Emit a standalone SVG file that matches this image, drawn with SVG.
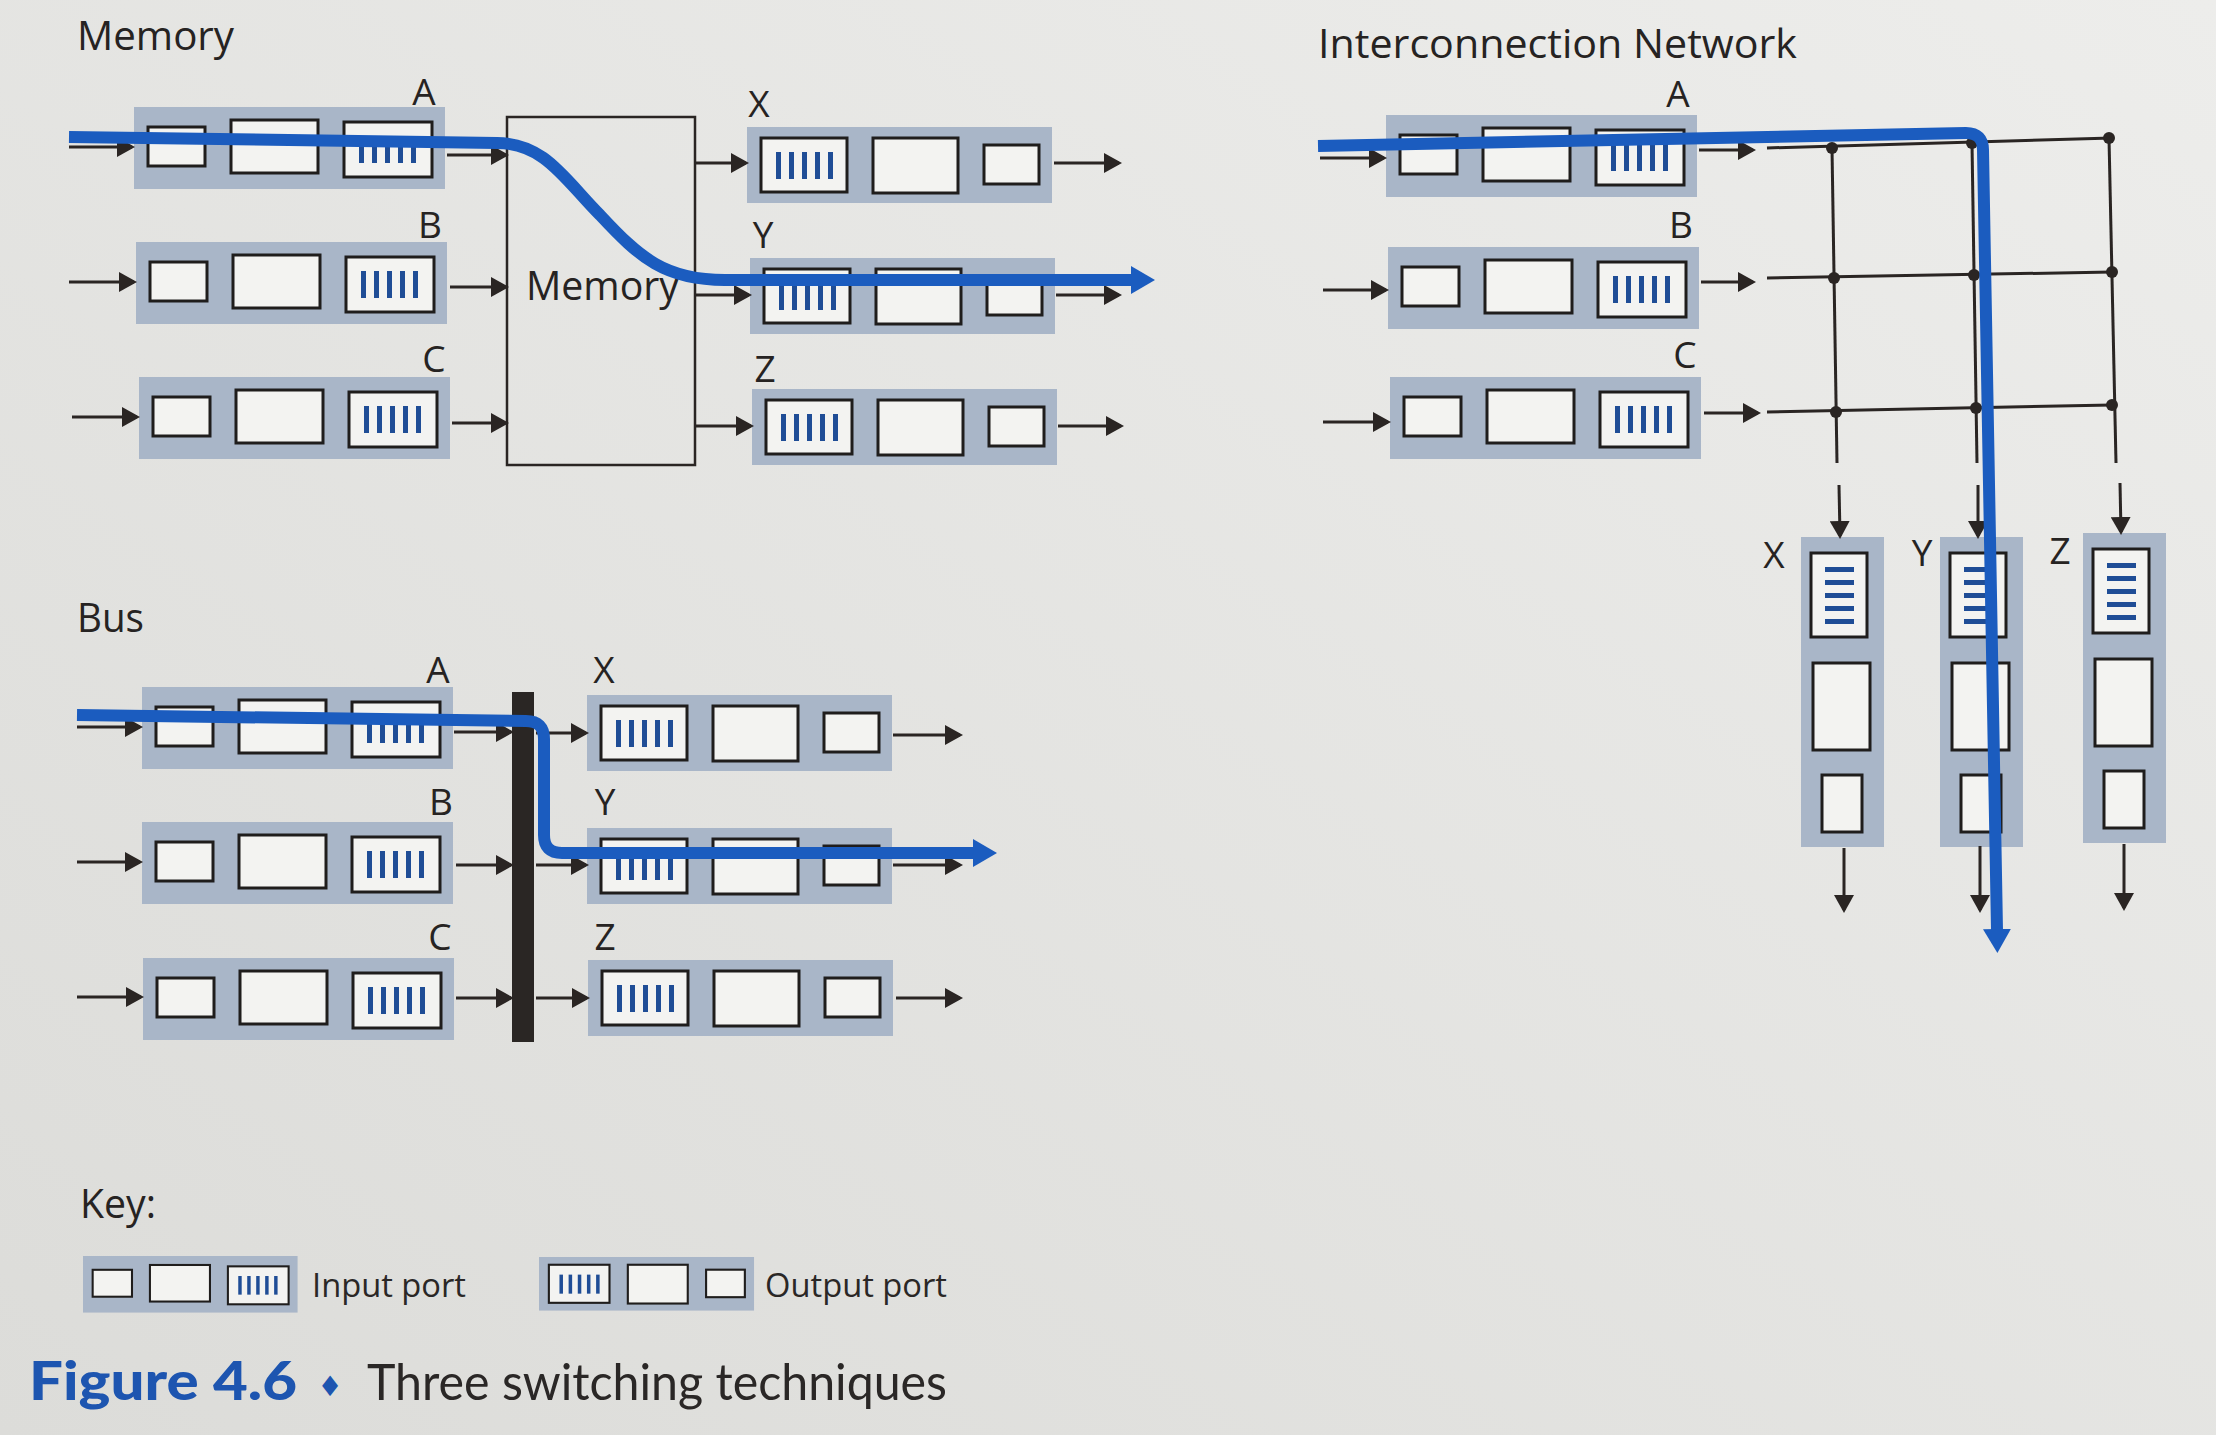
<svg xmlns="http://www.w3.org/2000/svg" xmlns:xlink="http://www.w3.org/1999/xlink" width="2216" height="1435" viewBox="0 0 2216 1435">
<style>
.lbl{font-family:"Open Sans","Noto Sans","DejaVu Sans",sans-serif;font-size:37px;fill:#262322;text-anchor:middle}
.ttl{font-family:"Open Sans","Noto Sans","DejaVu Sans",sans-serif;font-size:40px;fill:#262322}
.key{font-family:"Open Sans","Noto Sans","DejaVu Sans",sans-serif;font-size:32px;fill:#2a2726}
.port{fill:#a9b6c8}
.box{fill:#f3f3f1;stroke:#1f1d1c;stroke-width:3}
.bar{fill:#1f4d96}
.arr{stroke:#2a2523;stroke-width:3;fill:none;marker-end:url(#ah)}
.ln{stroke:#2a2523;stroke-width:3;fill:none}
.dot{fill:#2a2523}
.blue{stroke:#1b5cbf;stroke-width:12;fill:none;stroke-linejoin:round;marker-end:url(#bh)}
</style>
<defs>
<linearGradient id="bg" x1="1" y1="0" x2="0" y2="1">
<stop offset="0" stop-color="#ededeb"/>
<stop offset="1" stop-color="#dcdcd9"/>
</linearGradient>
<marker id="ah" markerUnits="userSpaceOnUse" markerWidth="18" markerHeight="20" viewBox="0 0 18 20" refX="15" refY="10" orient="auto">
<path d="M0,0 L18,10 L0,20 z" fill="#2a2523"/>
</marker>
<marker id="bh" markerUnits="userSpaceOnUse" markerWidth="24" markerHeight="28" viewBox="0 0 24 28" refX="1" refY="14" orient="auto">
<path d="M0,0 L24,14 L0,28 z" fill="#1b5cbf"/>
</marker>
<g id="inport">
<rect class="port" x="0" y="0" width="311" height="82"/>
<rect class="box" x="14" y="20" width="57" height="39"/>
<rect class="box" x="97" y="13" width="87" height="53"/>
<rect class="box" x="210" y="15" width="88" height="55"/>
<rect class="bar" x="225" y="29" width="5" height="27"/>
<rect class="bar" x="238" y="29" width="5" height="27"/>
<rect class="bar" x="251" y="29" width="5" height="27"/>
<rect class="bar" x="264" y="29" width="5" height="27"/>
<rect class="bar" x="277" y="29" width="5" height="27"/>
</g>
<g id="outport">
<rect class="port" x="0" y="0" width="305" height="76"/>
<rect class="box" x="14" y="11" width="86" height="54"/>
<rect class="bar" x="29" y="25" width="5" height="27"/>
<rect class="bar" x="42" y="25" width="5" height="27"/>
<rect class="bar" x="55" y="25" width="5" height="27"/>
<rect class="bar" x="68" y="25" width="5" height="27"/>
<rect class="bar" x="81" y="25" width="5" height="27"/>
<rect class="box" x="126" y="11" width="85" height="55"/>
<rect class="box" x="237" y="18" width="55" height="39"/>
</g>
<g id="vport">
<rect class="port" x="0" y="0" width="83" height="310"/>
<rect class="box" x="10" y="16" width="56" height="84"/>
<rect class="bar" x="24" y="30" width="29" height="5"/>
<rect class="bar" x="24" y="43" width="29" height="5"/>
<rect class="bar" x="24" y="56" width="29" height="5"/>
<rect class="bar" x="24" y="69" width="29" height="5"/>
<rect class="bar" x="24" y="82" width="29" height="5"/>
<rect class="box" x="12" y="126" width="57" height="87"/>
<rect class="box" x="21" y="238" width="40" height="57"/>
</g>
</defs>
<rect x="0" y="0" width="2216" height="1435" fill="url(#bg)"/>

<!-- titles -->
<text class="ttl" x="77" y="50" textLength="157" lengthAdjust="spacingAndGlyphs">Memory</text>
<text class="ttl" x="77" y="632" textLength="67" lengthAdjust="spacingAndGlyphs">Bus</text>
<text class="ttl" x="1318" y="58" textLength="479" lengthAdjust="spacingAndGlyphs">Interconnection Network</text>

<!-- Memory section nodes -->
<g id="mem-in-A"><use href="#inport" x="134" y="107"/><text class="lbl" x="424" y="105">A</text></g>
<g id="mem-in-B"><use href="#inport" x="136" y="242"/><text class="lbl" x="430" y="238">B</text></g>
<g id="mem-in-C"><use href="#inport" x="139" y="377"/><text class="lbl" x="434" y="372">C</text></g>
<g id="memory"><rect x="507" y="117" width="188" height="348" fill="none" stroke="#2a2523" stroke-width="2.5"/><text class="ttl" x="526" y="300" textLength="153" lengthAdjust="spacingAndGlyphs">Memory</text></g>
<g id="mem-out-X"><use href="#outport" x="747" y="127"/><text class="lbl" x="759" y="117">X</text></g>
<g id="mem-out-Y"><use href="#outport" x="750" y="258"/><text class="lbl" x="763" y="248">Y</text></g>
<g id="mem-out-Z"><use href="#outport" x="752" y="389"/><text class="lbl" x="765" y="382">Z</text></g>

<!-- Bus section nodes -->
<g id="bus-in-A"><use href="#inport" x="142" y="687"/><text class="lbl" x="438" y="683">A</text></g>
<g id="bus-in-B"><use href="#inport" x="142" y="822"/><text class="lbl" x="441" y="815">B</text></g>
<g id="bus-in-C"><use href="#inport" x="143" y="958"/><text class="lbl" x="440" y="950">C</text></g>
<g id="bus"><rect x="512" y="692" width="22" height="350" fill="#2a2624"/></g>
<g id="bus-out-X"><use href="#outport" x="587" y="695"/><text class="lbl" x="604" y="683">X</text></g>
<g id="bus-out-Y"><use href="#outport" x="587" y="828"/><text class="lbl" x="605" y="815">Y</text></g>
<g id="bus-out-Z"><use href="#outport" x="588" y="960"/><text class="lbl" x="605" y="950">Z</text></g>

<!-- Crossbar section nodes -->
<g id="xb-in-A"><use href="#inport" x="1386" y="115"/><text class="lbl" x="1678" y="107">A</text></g>
<g id="xb-in-B"><use href="#inport" x="1388" y="247"/><text class="lbl" x="1681" y="238">B</text></g>
<g id="xb-in-C"><use href="#inport" x="1390" y="377"/><text class="lbl" x="1685" y="368">C</text></g>
<g id="xb-out-X"><use href="#vport" x="1801" y="537"/><text class="lbl" x="1774" y="568">X</text></g>
<g id="xb-out-Y"><use href="#vport" x="1940" y="537"/><text class="lbl" x="1922" y="566">Y</text></g>
<g id="xb-out-Z"><use href="#vport" x="2083" y="533"/><text class="lbl" x="2060" y="564">Z</text></g>

<!-- connectors -->
<g id="connectors">
<!-- memory -->
<line class="arr" x1="69" y1="147" x2="132" y2="147"/>
<line class="arr" x1="69" y1="282" x2="134" y2="282"/>
<line class="arr" x1="72" y1="417" x2="137" y2="417"/>
<line class="arr" x1="447" y1="155" x2="506" y2="155"/>
<line class="arr" x1="450" y1="287" x2="506" y2="287"/>
<line class="arr" x1="452" y1="423" x2="506" y2="423"/>
<line class="arr" x1="696" y1="163" x2="746" y2="163"/>
<line class="arr" x1="696" y1="295" x2="749" y2="295"/>
<line class="arr" x1="696" y1="426" x2="751" y2="426"/>
<line class="arr" x1="1054" y1="163" x2="1119" y2="163"/>
<line class="arr" x1="1056" y1="295" x2="1119" y2="295"/>
<line class="arr" x1="1058" y1="426" x2="1121" y2="426"/>
<path class="blue" d="M69,137 L497,143 C545,143 565,180 600,215 C640,258 665,280 725,280 L1132,280"/>
<!-- bus -->
<line class="arr" x1="77" y1="727" x2="140" y2="727"/>
<line class="arr" x1="77" y1="862" x2="140" y2="862"/>
<line class="arr" x1="77" y1="997" x2="141" y2="997"/>
<line class="arr" x1="454" y1="732" x2="511" y2="732"/>
<line class="arr" x1="456" y1="865" x2="511" y2="865"/>
<line class="arr" x1="456" y1="998" x2="511" y2="998"/>
<line class="arr" x1="536" y1="733" x2="586" y2="733"/>
<line class="arr" x1="536" y1="865" x2="586" y2="865"/>
<line class="arr" x1="536" y1="998" x2="587" y2="998"/>
<line class="arr" x1="893" y1="735" x2="960" y2="735"/>
<line class="arr" x1="893" y1="865" x2="960" y2="865"/>
<line class="arr" x1="896" y1="998" x2="960" y2="998"/>
<path class="blue" d="M77,715 L526,721 Q544,721 544,739 L544,835 Q544,853 562,853 L974,853"/>
<!-- crossbar -->
<line class="arr" x1="1320" y1="158" x2="1384" y2="158"/>
<line class="arr" x1="1323" y1="290" x2="1386" y2="290"/>
<line class="arr" x1="1323" y1="422" x2="1388" y2="422"/>
<line class="arr" x1="1699" y1="150" x2="1753" y2="150"/>
<line class="arr" x1="1701" y1="282" x2="1753" y2="282"/>
<line class="arr" x1="1704" y1="413" x2="1758" y2="413"/>
<line class="ln" x1="1767" y1="148" x2="2112" y2="138"/>
<line class="ln" x1="1767" y1="278" x2="2112" y2="272"/>
<line class="ln" x1="1767" y1="412" x2="2112" y2="405"/>
<line class="ln" x1="1832" y1="148" x2="1837" y2="463"/>
<line class="ln" x1="1972" y1="143" x2="1977" y2="463"/>
<line class="ln" x1="2109" y1="138" x2="2116" y2="463"/>
<circle class="dot" cx="1832" cy="148" r="6"/>
<circle class="dot" cx="1972" cy="143" r="6"/>
<circle class="dot" cx="2109" cy="138" r="6"/>
<circle class="dot" cx="1834" cy="278" r="6"/>
<circle class="dot" cx="1974" cy="275" r="6"/>
<circle class="dot" cx="2112" cy="272" r="6"/>
<circle class="dot" cx="1836" cy="412" r="6"/>
<circle class="dot" cx="1976" cy="408" r="6"/>
<circle class="dot" cx="2112" cy="405" r="6"/>
<line class="arr" x1="1839" y1="485" x2="1840" y2="536"/>
<line class="arr" x1="1978" y1="485" x2="1978" y2="536"/>
<line class="arr" x1="2120" y1="483" x2="2121" y2="532"/>
<line class="arr" x1="1844" y1="848" x2="1844" y2="910"/>
<line class="arr" x1="1980" y1="846" x2="1980" y2="910"/>
<line class="arr" x1="2124" y1="844" x2="2124" y2="908"/>
<path class="blue" d="M1318,146 L1966,133 Q1983,133 1983,150 L1997,930"/>
</g>

<!-- key -->
<g id="key">
<text class="ttl" x="80" y="1218" font-size="37" textLength="76" lengthAdjust="spacingAndGlyphs">Key:</text>
<g id="key-input"><use href="#inport" transform="translate(83,1256) scale(0.69)"/><text class="key" x="312" y="1297" textLength="154" lengthAdjust="spacingAndGlyphs">Input port</text></g>
<g id="key-output"><use href="#outport" transform="translate(539,1257) scale(0.705)"/><text class="key" x="765" y="1297" textLength="182" lengthAdjust="spacingAndGlyphs">Output port</text></g>
</g>

<!-- caption -->
<g id="caption">
<text x="29" y="1400" font-family="Lato,'Open Sans',sans-serif" font-weight="900" font-size="54" fill="#1d55b0" textLength="268" lengthAdjust="spacingAndGlyphs">Figure 4.6</text>
<text x="330" y="1396" font-family="'DejaVu Sans',sans-serif" font-size="28" fill="#1d55b0" text-anchor="middle">♦</text>
<text x="367" y="1400" font-family="Lato,'Open Sans',sans-serif" font-size="50" fill="#2a2726" textLength="580" lengthAdjust="spacingAndGlyphs">Three switching techniques</text>
</g>
</svg>
